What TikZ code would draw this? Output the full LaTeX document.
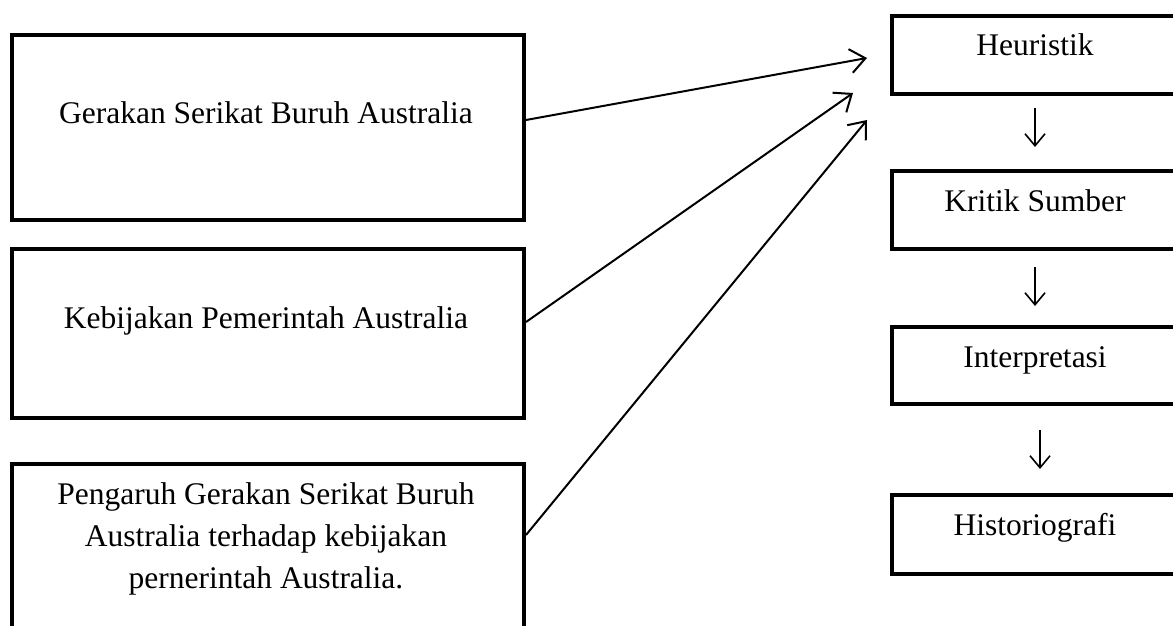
\documentclass[tikz,border=0pt]{standalone}
\usepackage{fontspec}
\setmainfont{Liberation Serif}
\usetikzlibrary{arrows.meta}
\begin{document}
\begin{tikzpicture}[x=1pt,y=-1pt,
  boxL/.style={draw=black,line width=4pt,rectangle,inner sep=0pt,anchor=north west},
  txt/.style={font=\fontsize{31.5}{42}\selectfont,anchor=base,inner sep=0pt,align=center},
  conn/.style={line width=2pt,-{Straight Barb[length=15pt,width=24pt,line width=2pt]}},
  down/.style={line width=1.6pt,-{Straight Barb[length=12pt,width=20pt,line width=1.6pt]}}]
\useasboundingbox (0,0) rectangle (1173,626);
\clip (0,0) rectangle (1173,626);
\fill[white] (0,0) rectangle (1173,626);
% left boxes
\node[boxL,minimum width=512pt,minimum height=185pt] (b1) at (10,33) {};
\node[boxL,minimum width=512pt,minimum height=169pt] (b2) at (10,247) {};
\node[boxL,minimum width=512pt,minimum height=250pt] (b3) at (10,462) {};
\node[txt] (t1) at (266,123) {Gerakan Serikat Buruh Australia};
\node[txt] (t2) at (266,328) {Kebijakan Pemerintah Australia};
\node[txt,anchor=north] (t3) at (266,482) {Pengaruh Gerakan Serikat Buruh\\Australia terhadap kebijakan\\pernerintah Australia.};
% right boxes
\node[boxL,minimum width=290pt,minimum height=78pt] (r1) at (890,14) {};
\node[boxL,minimum width=290pt,minimum height=78pt] (r2) at (890,169) {};
\node[boxL,minimum width=290pt,minimum height=77pt] (r3) at (890,325) {};
\node[boxL,minimum width=290pt,minimum height=79pt] (r4) at (890,493) {};
\node[txt] (s1) at (1035,56) {Heuristik};
\node[txt] (s2) at (1035,211) {Kritik Sumber};
\node[txt] (s3) at (1035,367) {Interpretasi};
\node[txt] (s4) at (1035,535) {Historiografi};
% connectors
\coordinate (tip1) at (867,58);
\coordinate (tip2) at (853,93);
\coordinate (tip3) at (867,120);
\draw[conn] ([yshift=7.5pt]b1.east) -- (tip1);
\draw[conn] ([yshift=11.5pt]b2.east) -- (tip2);
\draw[conn] ([yshift=54pt]b3.east) -- (tip3);
% down arrows
\coordinate (a1s) at (1035,108); \coordinate (a1e) at (1035,147);
\coordinate (a2s) at (1035,267); \coordinate (a2e) at (1035,306);
\coordinate (a3s) at (1040,430); \coordinate (a3e) at (1040,469);
\draw[down] (a1s) -- (a1e);
\draw[down] (a2s) -- (a2e);
\draw[down] (a3s) -- (a3e);
\end{tikzpicture}
\end{document}
